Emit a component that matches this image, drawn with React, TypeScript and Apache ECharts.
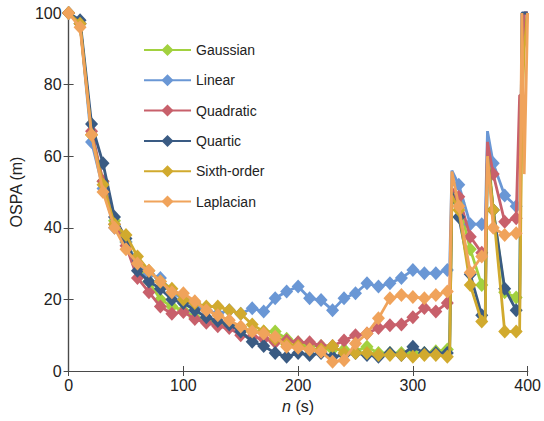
import React, { useEffect, useRef } from "react";
import * as echarts from "echarts";

const xs = [0, 10, 20, 30, 40, 50, 60, 70, 80, 90, 100, 110, 120, 130,
  140, 150, 160, 170, 180, 190, 200, 210, 220, 230,
  240, 250, 260, 270, 280, 290, 300, 310, 320, 330,
  332, 334, 340, 350, 360, 363, 365, 370, 380, 390, 393, 395, 397, 400];

const gaussian = [100, 97, 66, 53, 42, 36, 30, 25, 20, 18, 17, 15, 14, 13,
  13, 12, 11, 11, 11, 9, 8, 7, 7, 6,
  6, 5.5, 6.8, 5, 5, 5, 5, 5, 5.5, 6,
  6, 50, 47, 34, 24, 24, 63, 45, 22, 20.5, 20, 85, 95, 100];

const linear = [100, 97, 64, 51, 40, 36, 30, 27, 26, 22, 20, 18, 17, 16,
  17, 16, 17.5, 16.6, 20.3, 22.2, 23.6, 20.3, 19.8, 17,
  20.3, 21.7, 24.5, 23.6, 24.5, 26, 28.2, 27.3, 27.3, 28.2,
  28.2, 56, 52, 41, 41, 41, 67, 58, 49, 46, 46, 90, 100, 100];

const quadratic = [100, 97, 67, 53, 41, 35, 26, 22, 18, 16, 16.5, 14.5, 13.5, 12.5,
  12, 10, 9.5, 9, 8, 8.5, 8, 8, 7, 7,
  8.5, 10, 10.5, 12, 12.8, 13, 15, 17.6, 16.6, 19,
  19, 51, 48.7, 37.5, 33, 33, 64, 55, 41.7, 42.7, 77, 77, 100, 100];

const quartic = [100, 98, 69, 58, 43, 37, 28, 25, 23, 20, 19, 17, 15, 14,
  13, 11, 8.2, 7, 5, 4, 5, 4.5, 5, 4,
  4.5, 5, 4.5, 4, 5, 4.5, 6.8, 5, 5, 5,
  5, 50, 43, 27, 15.6, 15, 60, 45, 23, 17, 17, 100, 100, 100];

const sixthOrder = [100, 97, 66, 52, 41, 38, 32, 28, 25, 23, 20, 19, 18, 18,
  17, 16, 13, 11, 9, 7.5, 7, 6, 6, 7,
  5, 5, 5, 4.5, 4.5, 4.5, 4, 4.5, 4.5, 4,
  4, 49, 45, 24, 13.8, 13.5, 60, 45, 11, 11, 11, 73, 90, 100];

const laplacian = [100, 96, 66, 50, 40, 34, 30, 28, 25, 22, 21.7, 19.5, 17, 15.6,
  14.2, 12.4, 11, 10.5, 9.6, 6.8, 6.5, 6, 5.4, 2.6,
  3, 7.7, 10.5, 14.7, 20.3, 21.2, 20.7, 20.3, 21.2, 22.2,
  22.2, 55.7, 46, 27.5, 32, 32, 60, 40, 38, 38.5, 38, 100, 55, 100];

const seriesNames = ["Gaussian", "Linear", "Quadratic", "Quartic", "Sixth-order", "Laplacian"];
const seriesValues = [gaussian, linear, quadratic, quartic, sixthOrder, laplacian];
const colors = ["#a2d13f", "#6a97d5", "#c8606b", "#3a5b83", "#d1aa2e", "#f0a35b"];

const xTicks = [0, 100, 200, 300, 400];
const yTicks = [0, 20, 40, 60, 80, 100];

const FONT = "Liberation Sans, Arial, sans-serif";

export default function App() {
  const ref = useRef<HTMLDivElement>(null);
  useEffect(() => {
    if (!ref.current) return;
    const chart = echarts.init(ref.current, null, { renderer: "svg" });
    const axisLine = { show: true, lineStyle: { color: "#4a4a4a", width: 1.2 } };
    const axisTick = { show: true, inside: true, length: 5, lineStyle: { color: "#4a4a4a" } };
    const series = seriesNames.map((name, i) => ({
      name,
      type: "line",
      data: xs.map((x, j) => [x, seriesValues[i][j]]),
      color: colors[i],
      symbol: "diamond",
      symbolSize: (v: number[]) => (v[0] % 10 === 0 && v[0] < 400 ? [13, 14] : 0),
      showAllSymbol: true,
      lineStyle: { width: 2.8, color: colors[i] },
      itemStyle: { color: colors[i] },
      clip: false,
      z: 2 + i,
    }));
    chart.setOption({
      animation: false,
      backgroundColor: "#fff",
      grid: { left: 66, right: 16, top: 13, bottom: 50 },
      legend: {
        orient: "vertical",
        left: 138,
        top: 38,
        itemWidth: 47,
        itemHeight: 15,
        itemGap: 16.3,
        data: seriesNames,
        textStyle: { fontFamily: FONT, fontSize: 14, color: "#222" },
      },
      xAxis: [
        {
          type: "value",
          min: 0,
          max: 400,
          interval: 100,
          position: "bottom",
          axisLine,
          axisTick,
          splitLine: { show: false },
          axisLabel: { fontFamily: FONT, fontSize: 16, color: "#222", margin: 6,
            formatter: (v: number) => (xTicks.includes(v) ? String(v) : "") },
          name: "{i|n} (s)",
          nameLocation: "middle",
          nameGap: 27,
          nameTextStyle: {
            fontFamily: FONT, fontSize: 16, color: "#222",
            rich: { i: { fontFamily: FONT, fontSize: 16, fontStyle: "italic", color: "#222" } },
          },
        },
        {
          type: "value",
          min: 0,
          max: 400,
          interval: 100,
          position: "top",
          axisLine,
          axisTick,
          splitLine: { show: false },
          axisLabel: { show: false },
        },
      ],
      yAxis: [
        {
          type: "value",
          min: 0,
          max: 100,
          interval: 20,
          position: "left",
          axisLine,
          axisTick,
          splitLine: { show: false },
          axisLabel: { fontFamily: FONT, fontSize: 16, color: "#222", margin: 7,
            formatter: (v: number) => (yTicks.includes(v) ? String(v) : "") },
          name: "OSPA (m)",
          nameLocation: "middle",
          nameGap: 33,
          nameTextStyle: { fontFamily: FONT, fontSize: 16, color: "#222" },
        },
        {
          type: "value",
          min: 0,
          max: 100,
          interval: 20,
          position: "right",
          axisLine,
          axisTick,
          splitLine: { show: false },
          axisLabel: { show: false },
        },
      ],
      series,
    });
    return () => chart.dispose();
  }, []);
  return (
    <div
      ref={ref}
      style={{ position: "fixed", left: 0, top: 0, width: 544, height: 421, background: "#fff" }}
    />
  );
}
